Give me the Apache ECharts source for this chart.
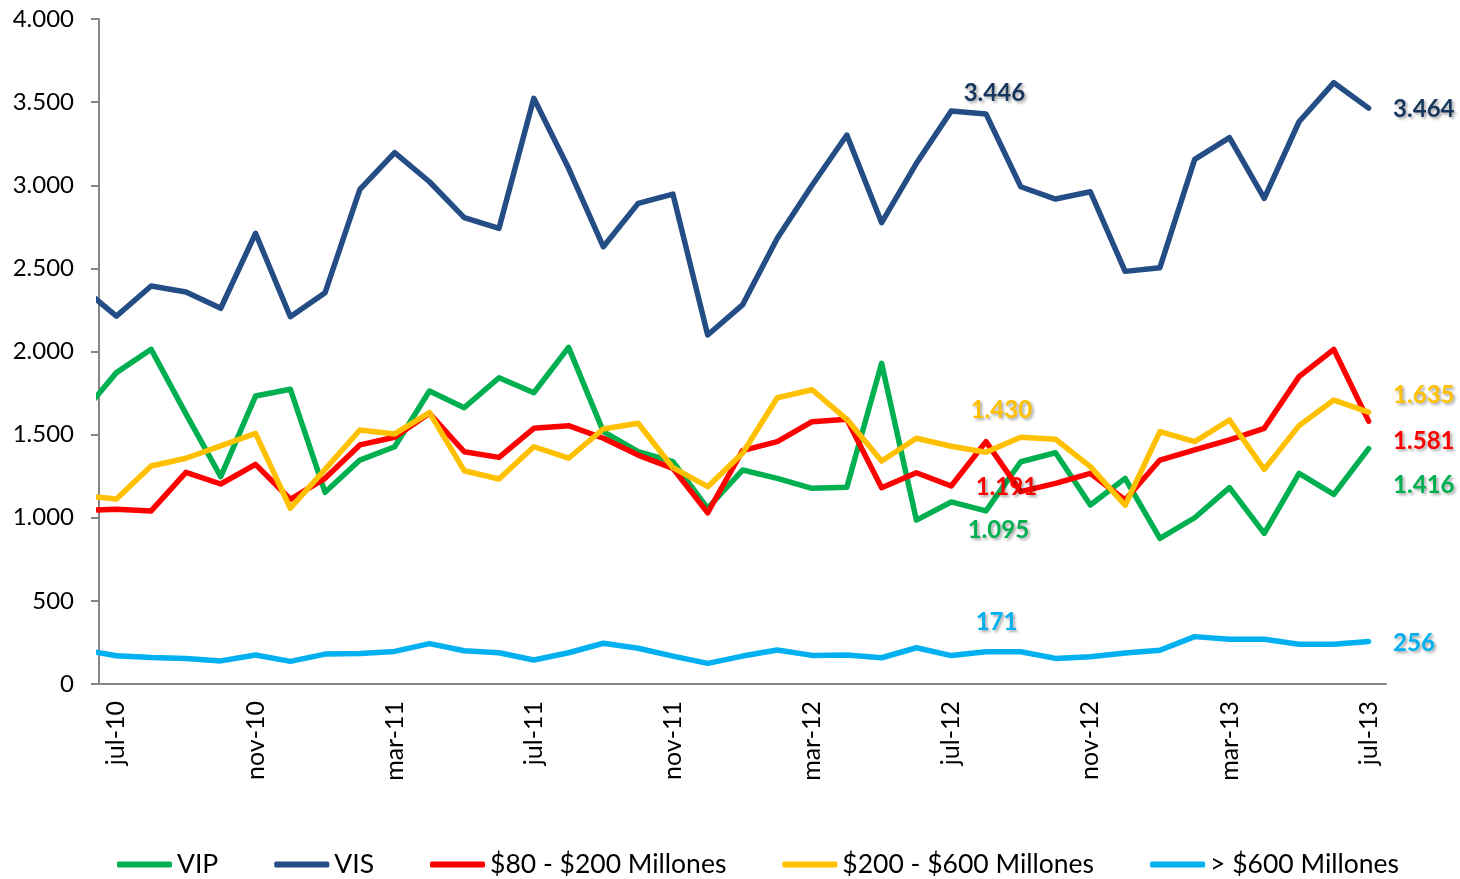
<!DOCTYPE html>
<html>
<head>
<meta charset="utf-8">
<title>VIP / VIS</title>
<script src="https://cdn.jsdelivr.net/npm/echarts@6/dist/echarts.min.js"></script>
<style>
  html, body { margin: 0; padding: 0; background: #fff; }
  #chart { width: 1460px; height: 879px; }
</style>
</head>
<body>
<div id="chart"></div>
<script>
var months = ['jul-10','ago-10','sep-10','oct-10','nov-10','dic-10',
  'ene-11','feb-11','mar-11','abr-11','may-11','jun-11','jul-11','ago-11','sep-11','oct-11','nov-11','dic-11',
  'ene-12','feb-12','mar-12','abr-12','may-12','jun-12','jul-12','ago-12','sep-12','oct-12','nov-12','dic-12',
  'ene-13','feb-13','mar-13','abr-13','may-13','jun-13','jul-13']

var vip = [1873,2013,1625,1247,1732,1773,1153,1347,1427,1762,1662,1842,1752,2025,1518,1397,1337,1057,1287,1237,
  1177,1183,1929,986,1095,1041,1337,1391,1077,1237,876,1000,1181,906,1267,1141,1416]
var vis = [2213,2394,2358,2260,2711,2209,2354,2975,3196,3021,2805,2741,3523,3102,2630,2891,2947,2099,2280,2681,
  3000,3302,2775,3132,3446,3429,2991,2917,2961,2482,2504,3156,3286,2921,3382,3617,3464]
var m80a200 = [1051,1041,1273,1203,1321,1111,1237,1438,1484,1628,1397,1363,1538,1554,1478,1377,1297,1030,1404,1458,
  1578,1592,1181,1271,1191,1458,1157,1207,1267,1107,1347,1408,1468,1538,1849,2013,1581]
var m200a600 = [1113,1311,1358,1432,1508,1057,1291,1528,1504,1632,1283,1233,1427,1358,1534,1568,1301,1187,1388,1722,
  1770,1592,1341,1478,1430,1394,1484,1472,1307,1075,1518,1458,1588,1291,1554,1708,1635]
var mas600 = [170,159,154,139,174,136,180,184,196,243,200,188,144,188,245,215,168,124,168,205,
  172,174,158,218,171,194,194,154,164,186,203,285,269,269,239,239,256]

// jun-10: only the short piece left of jul-10 shows, cut at the axis
var jun10 = {vip: 1623, vis: 2387, m80a200: 1043, m200a600: 1133, mas600: 206}

var font = 'Lato, "Open Sans", sans-serif'

function fmt(v) {
  return String(v).replace(/\B(?=(\d{3})+(?!\d))/g, '.')
}

function lineSeries(name, vals, lead, color, textColor, labels) {
  var data = [{value: [-1, lead]}]
  vals.forEach(function (v, i) {
    var item = {value: [i, v]}
    if (labels[i]) {
      item.label = {
        show: true, position: 'right', distance: 0, offset: labels[i],
        color: textColor, fontFamily: font, fontSize: 24, fontWeight: 'bold',
        textShadowColor: 'rgba(0,0,0,0.35)', textShadowBlur: 3, textShadowOffsetX: 2, textShadowOffsetY: 2,
        formatter: function (p) { return fmt(p.value[1]) }
      }
    }
    data.push(item)
  })
  return {
    name: name, type: 'line', xAxisIndex: 1, data: data,
    symbol: 'circle', symbolSize: 1, showSymbol: true,
    itemStyle: {color: color},
    lineStyle: {color: color, width: 5.5, cap: 'round', join: 'round'},
    emphasis: {disabled: true},
    animation: false
  }
}

var chart = echarts.init(document.getElementById('chart'))
chart.setOption({
  backgroundColor: '#fff',
  grid: {left: 99, right: 74, top: 19, bottom: 195},
  legend: {
    left: 112, top: 846, width: 1340, orient: 'horizontal',
    icon: 'roundRect', itemWidth: 55, itemHeight: 6, itemGap: 56,
    textStyle: {fontFamily: font, fontSize: 26.5, color: '#000'},
    data: ['VIP', 'VIS', '$80 - $200 Millones', '$200 - $600 Millones', '> $600 Millones']
  },
  xAxis: [{
    type: 'category', data: months, boundaryGap: true,
    axisLine: {lineStyle: {color: '#868686', width: 2}},
    axisTick: {interval: 3, length: 8, lineStyle: {color: '#868686', width: 2}},
    axisLabel: {interval: 3, rotate: 90, margin: 17, fontFamily: font, fontSize: 25, color: '#000'}
  }, {
    type: 'value', min: -0.5, max: 36.5, show: false
  }],
  yAxis: {
    type: 'value', min: 0, max: 4000, interval: 500,
    splitLine: {show: false},
    axisLine: {show: true, onZero: false, lineStyle: {color: '#868686', width: 2}},
    axisTick: {show: true, length: 8, lineStyle: {color: '#868686', width: 2}},
    axisLabel: {margin: 25, fontFamily: font, fontSize: 24, color: '#000', formatter: fmt}
  },
  series: [
    lineSeries('VIP', vip, jun10.vip, '#00B050', '#00B050', {24: [16, 28], 36: [24, 37]}),
    lineSeries('VIS', vis, jun10.vis, '#234D84', '#17365D', {24: [12, -18], 36: [24, 1]}),
    lineSeries('$80 - $200 Millones', m80a200, jun10.m80a200, '#FF0000', '#FF0000', {24: [24, 1], 36: [24, 20]}),
    lineSeries('$200 - $600 Millones', m200a600, jun10.m200a600, '#FFC000', '#FFC000', {24: [19, -36], 36: [24, -17]}),
    lineSeries('> $600 Millones', mas600, jun10.mas600, '#00B0F0', '#00B0F0', {24: [24, -33], 36: [24, 2]})
  ]
})
</script>
</body>
</html>
